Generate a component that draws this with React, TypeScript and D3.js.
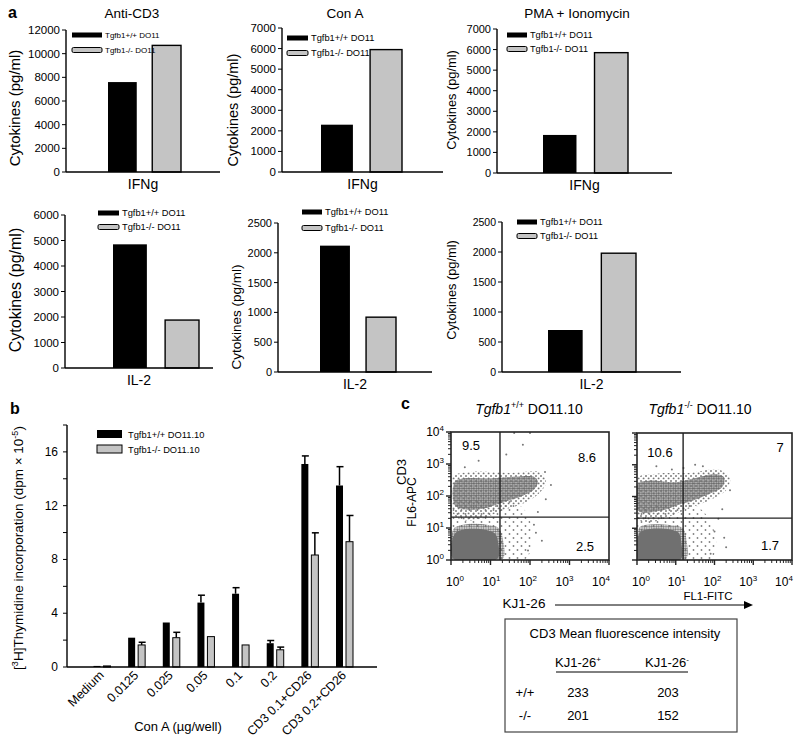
import React from "react";
import * as d3 from "d3";

const FONT = "'Liberation Sans', Arial, Helvetica, sans-serif";
const GRAY = "#c4c4c4";

// ---------- Panel a data ----------
const conditions = ["Anti-CD3", "Con A", "PMA + Ionomycin"];
const seriesA = ["Tgfb1+/+ DO11", "Tgfb1-/- DO11"];
const ifngWT = [7600, 2300, 1850];
const ifngKO = [10700, 5950, 5850];
const il2WT = [4850, 2120, 700];
const il2KO = [1880, 920, 1980];
const ifngMax = [12000, 7000, 7000];
const ifngStep = [2000, 1000, 1000];
const il2Max = [6000, 2500, 2500];
const il2Step = [1000, 500, 500];

// ---------- Panel b data ----------
const bGroups = ["Medium", "0.0125", "0.025", "0.05", "0.1", "0.2", "CD3 0.1+CD26", "CD3 0.2+CD26"];
const bSeries = ["Tgfb1+/+ DO11.10", "Tgfb1-/- DO11.10"];
const bWT = [0.08, 2.18, 3.31, 4.79, 5.45, 1.77, 15.1, 13.5];
const bWTerr = [0, 0, 0, 0.55, 0.45, 0.2, 0.6, 1.4];
const bKO = [0.08, 1.64, 2.18, 2.26, 1.64, 1.28, 8.33, 9.32];
const bKOerr = [0, 0.2, 0.4, 0, 0, 0.2, 1.65, 1.95];
const bTicks = [0, 2, 4, 6, 8, 10, 12, 14, 16, 18];
const bTickLabels = [0, 4, 8, 12, 16];

// ---------- Panel c data (log10 units) ----------
const cTitles = ["+/+", "-/-"];
const cGateX = [1.24, 1.19];
const cGateY = [1.34, 1.32];
const cQuadUL = ["9.5", "10.6"];
const cQuadUR = ["8.6", "7"];
const cQuadLR = ["2.5", "1.7"];
const cBlob = [
  [[0.05, 0.05], [1.18, 0.05], [1.2, 0.5], [1.12, 0.82], [0.9, 0.94], [0.4, 0.97], [0.15, 0.88], [0.05, 0.7]],
  [[0.03, 0.03], [1.13, 0.03], [1.15, 0.5], [1.08, 0.85], [0.85, 0.96], [0.35, 0.98], [0.1, 0.9], [0.03, 0.75]],
];
const cBlobHalo = [
  [[0.02, 0.02], [1.3, 0.02], [1.32, 0.6], [1.2, 1.0], [0.9, 1.1], [0.4, 1.12], [0.1, 1.02], [0.02, 0.8]],
  [[0.01, 0.01], [1.25, 0.01], [1.28, 0.6], [1.18, 1.0], [0.85, 1.1], [0.35, 1.12], [0.08, 1.05], [0.01, 0.8]],
];
const cBand = [
  [[0.1, 1.7], [0.1, 2.45], [0.3, 2.55], [1.0, 2.55], [1.6, 2.6], [2.1, 2.6], [2.2, 2.45], [2.1, 2.2], [1.8, 2.0], [1.3, 1.8], [0.8, 1.6], [0.4, 1.58]],
  [[0.03, 1.55], [0.03, 2.4], [0.3, 2.5], [1.0, 2.45], [1.4, 2.55], [2.0, 2.7], [2.25, 2.6], [2.2, 2.3], [1.9, 2.1], [1.5, 1.9], [1.1, 1.75], [0.6, 1.55]],
];
const cHalo = [
  [[0.05, 1.45], [0.05, 2.6], [0.5, 2.75], [1.5, 2.72], [2.3, 2.72], [2.4, 2.4], [2.2, 2.05], [1.8, 1.75], [1.3, 1.55], [0.8, 1.3], [0.3, 1.25]],
  [[0.03, 1.3], [0.03, 2.6], [0.5, 2.72], [1.4, 2.75], [2.1, 2.85], [2.4, 2.6], [2.3, 2.2], [1.9, 1.9], [1.4, 1.65], [0.9, 1.4], [0.4, 1.2]],
];
const cSparse = [
  [[0.1, 0.9], [1.2, 0.9], [1.25, 0.05], [1.9, 0.05], [2.05, 0.6], [1.95, 1.4], [1.6, 1.8], [0.1, 1.7]],
  [[0.03, 0.95], [1.15, 0.95], [1.2, 0.03], [1.9, 0.03], [2.05, 0.5], [1.85, 1.3], [1.5, 1.7], [0.03, 1.5]],
];
const cOutliers = [
  [[1.82, 3.6], [2.0, 3.97], [1.6, 3.97], [2.38, 2.75], [2.53, 2.34], [0.35, 2.9], [0.7, 3.1], [2.2, 1.5], [2.1, 1.1], [2.3, 0.6], [1.95, 0.3], [2.4, 1.9], [1.4, 3.3], [2.15, 0.85]],
  [[1.5, 3.0], [1.2, 2.9], [0.5, 2.95], [0.9, 2.85], [2.4, 2.2], [2.2, 1.6], [2.0, 0.9], [2.3, 0.4], [1.9, 0.2], [2.1, 1.3], [1.7, 2.95], [2.25, 0.7]],
];
const cDecades = [0, 1, 2, 3, 4];

// ---------- Table ----------
const tableCols = ["KJ1-26", "KJ1-26"];
const tableColSup = ["+", "-"];
const tableRows = ["+/+", "-/-"];
const tableVals = [[233, 203], [201, 152]];

// ---------- Layouts ----------
const aLayout = [
  { x0: 66, x1: 220, yTop: 30, y0: 172, b0: 108, b1: 181, titleX: 132, yLabX: 15, yLabY: 108, yLabFs: 15, legX: 72, legW: 30, legY: 35, legDy: 15, legFs: 8, tickFs: 11.5 },
  { x0: 282, x1: 443, yTop: 28, y0: 172, b0: 321, b1: 402, titleX: 345, yLabX: 233, yLabY: 110, yLabFs: 14.5, legX: 287, legW: 21, legY: 38, legDy: 15, legFs: 9.3, tickFs: 11.5 },
  { x0: 497, x1: 672, yTop: 29, y0: 173, b0: 543, b1: 628, titleX: 577, yLabX: 452, yLabY: 100, yLabFs: 12.8, legX: 507, legW: 20, legY: 35, legDy: 14, legFs: 9.2, tickFs: 11 },
  { x0: 65, x1: 213, yTop: 215, y0: 368, b0: 113, b1: 199, titleX: 0, yLabX: 15, yLabY: 290, yLabFs: 16, legX: 98, legW: 21, legY: 213, legDy: 14, legFs: 9.3, tickFs: 11.5 },
  { x0: 278, x1: 432, yTop: 223, y0: 372, b0: 320, b1: 396, titleX: 0, yLabX: 236, yLabY: 317, yLabFs: 13.5, legX: 302, legW: 20, legY: 212, legDy: 16, legFs: 9.3, tickFs: 11 },
  { x0: 502, x1: 681, yTop: 222, y0: 372, b0: 548, b1: 636, titleX: 0, yLabX: 452, yLabY: 290, yLabFs: 12.8, legX: 517, legW: 20, legY: 222, legDy: 14, legFs: 9.2, tickFs: 10.5 },
];

function BarA({ L, title, cat, wt, ko, max, step }: any) {
  const y = d3.scaleLinear().domain([0, max]).range([L.y0, L.yTop]);
  const x = d3.scaleBand().domain(["wt", "ko"]).range([L.b0, L.b1]).paddingInner(0.35);
  const ticks = d3.range(0, max + 1, step);
  const vals = { wt, ko } as any;
  return (
    <g fontFamily={FONT}>
      {title && (
        <text x={L.titleX} y={18} fontSize={13.5} textAnchor="middle">{title}</text>
      )}
      {["wt", "ko"].map((k) => (
        <rect key={k} x={x(k)} y={y(vals[k])} width={x.bandwidth()} height={L.y0 - y(vals[k])}
          fill={k === "wt" ? "#000" : GRAY} stroke="#000" strokeWidth={k === "wt" ? 0 : 1.4} />
      ))}
      <line x1={L.x0} x2={L.x0} y1={L.yTop} y2={L.y0} stroke="#000" strokeWidth={1.4} />
      <line x1={L.x0} x2={L.x1} y1={L.y0} y2={L.y0} stroke="#000" strokeWidth={1.4} />
      {ticks.map((t: number) => (
        <g key={t}>
          <line x1={L.x0 - 4} x2={L.x0} y1={y(t)} y2={y(t)} stroke="#000" strokeWidth={1} />
          <text x={L.x0 - 6} y={y(t) + 4} fontSize={L.tickFs} textAnchor="end">{t}</text>
        </g>
      ))}
      <text transform={`translate(${L.yLabX},${L.yLabY}) rotate(-90)`} dy="0.35em" fontSize={L.yLabFs} textAnchor="middle">Cytokines (pg/ml)</text>
      <text x={(L.x0 + L.x1) / 2} y={L.y0 + 17} fontSize={14} textAnchor="middle">{cat}</text>
      {seriesA.map((s, i) => (
        <g key={s}>
          <rect x={L.legX} y={L.legY + i * L.legDy - 2.5} width={L.legW} height={5}
            fill={i === 0 ? "#000" : GRAY} stroke="#000" strokeWidth={i === 0 ? 0 : 1} rx={i === 0 ? 0 : 1.5} />
          <text x={L.legX + L.legW + 3} y={L.legY + i * L.legDy + 3.2} fontSize={L.legFs}>{s}</text>
        </g>
      ))}
    </g>
  );
}

function PanelB() {
  const y = d3.scaleLinear().domain([0, 18]).range([667, 425]);
  const x = d3.scalePoint().domain(bGroups).range([101.5, 344]);
  const xi = d3.scaleBand().domain(["wt", "ko"]).range([-8, 9]).paddingInner(0.3);
  const bw = xi.bandwidth();
  return (
    <g fontFamily={FONT}>
      <text x={10} y={414} fontSize={16} fontWeight="bold">b</text>
      {bGroups.map((g, i) => {
        const cx = x(g) as number;
        const items = [
          { k: "wt", v: bWT[i], e: bWTerr[i] },
          { k: "ko", v: bKO[i], e: bKOerr[i] },
        ];
        return (
          <g key={g}>
            {items.map((it) => {
              const bx = cx + (xi(it.k) as number);
              return (
                <g key={it.k}>
                  {it.e > 0 && (
                    <g stroke="#000" strokeWidth={1.5}>
                      <line x1={bx + bw / 2} x2={bx + bw / 2} y1={y(it.v)} y2={y(it.v + it.e)} />
                      <line x1={bx + 0.5} x2={bx + bw + 0.5} y1={y(it.v + it.e)} y2={y(it.v + it.e)} />
                    </g>
                  )}
                  <rect x={bx} y={y(it.v)} width={bw} height={667 - y(it.v)}
                    fill={it.k === "wt" ? "#000" : GRAY} stroke="#000" strokeWidth={it.k === "wt" ? 0 : 1} />
                </g>
              );
            })}
            <text transform={`translate(${cx + 3},${676}) rotate(-45)`} fontSize={12.5} textAnchor="end">{g}</text>
          </g>
        );
      })}
      <line x1={67} x2={67} y1={425} y2={667} stroke="#000" strokeWidth={1.4} />
      <line x1={67} x2={377} y1={667} y2={667} stroke="#000" strokeWidth={1.4} />
      {bTicks.map((t) => (
        <line key={t} x1={63} x2={67} y1={y(t)} y2={y(t)} stroke="#000" strokeWidth={1} />
      ))}
      {bTickLabels.map((t) => (
        <text key={t} x={58} y={y(t) + 4} fontSize={12} textAnchor="end">{t}</text>
      ))}
      <text transform={`translate(18,548) rotate(-90)`} dy="0.35em" fontSize={13.5} textAnchor="middle">
        <tspan>[</tspan>
        <tspan dy={-5} fontSize={9}>3</tspan>
        <tspan dy={5}>H]Thymidine incorporation (dpm × 10</tspan>
        <tspan dy={-5} fontSize={9}>-5</tspan>
        <tspan dy={5}>)</tspan>
      </text>
      <text x={178} y={731} fontSize={13} textAnchor="middle">Con A (µg/well)</text>
      {bSeries.map((s, i) => (
        <g key={s}>
          <rect x={97} y={430 + i * 15} width={25} height={8}
            fill={i === 0 ? "#000" : GRAY} stroke="#000" strokeWidth={i === 0 ? 0 : 1} />
          <text x={128} y={437.5 + i * 15} fontSize={9.3}>{s}</text>
        </g>
      ))}
    </g>
  );
}

const cLayout = [
  { left: 451, right: 609, top: 432, bottom: 560, titleX: 529, yLabels: true, ul: [471, 450], ur: [587, 462], lr: [585, 551] },
  { left: 637, right: 792, top: 433, bottom: 560, titleX: 700, yLabels: false, ul: [660, 457], ur: [780, 452], lr: [770, 550] },
];

function Flow({ i }: { i: number }) {
  const L = cLayout[i];
  const x = d3.scaleLog().domain([1, 1e4]).range([L.left, L.right]);
  const y = d3.scaleLog().domain([1, 1e4]).range([L.bottom, L.top]);
  const xl = d3.scaleLinear().domain([0, 4]).range([L.left + 4, L.right - 8]);
  const px = (v: number) => x(Math.pow(10, v));
  const py = (v: number) => y(Math.pow(10, v));
  const line = d3.line<number[]>().x((d) => px(d[0])).y((d) => py(d[1])).curve(d3.curveCatmullRomClosed.alpha(0.5));
  const minor: number[] = [];
  for (let k = 0; k < 4; k++) for (let m = 2; m <= 9; m++) minor.push(m * Math.pow(10, k));
  const clipId = `clip${i}`;
  return (
    <g fontFamily={FONT}>
      <defs>
        <clipPath id={clipId}>
          <rect x={L.left} y={L.top} width={L.right - L.left} height={L.bottom - L.top} />
        </clipPath>
      </defs>
      <g clipPath={`url(#${clipId})`}>
        <path d={line(cSparse[i] as any) || ""} fill="url(#patSparse)" />
        <path d={line(cHalo[i] as any) || ""} fill="url(#patMed)" />
        <path d={line(cBand[i] as any) || ""} fill="#8c8c8c" fillOpacity={0.45} />
        <path d={line(cBand[i] as any) || ""} fill="url(#patDense)" />
        <path d={line(cBlobHalo[i] as any) || ""} fill="url(#patDense)" />
        <path d={line(cBlob[i] as any) || ""} fill="#707070" />
        {cOutliers[i].map((p, j) => (
          <circle key={j} cx={px(p[0])} cy={py(p[1])} r={1} fill="#777" />
        ))}
      </g>
      <rect x={L.left} y={L.top} width={L.right - L.left} height={L.bottom - L.top} fill="none" stroke="#222" strokeWidth={1.6} />
      <line x1={px(cGateX[i])} x2={px(cGateX[i])} y1={L.top} y2={L.bottom} stroke="#222" strokeWidth={1.4} />
      <line x1={L.left} x2={L.right} y1={py(cGateY[i])} y2={py(cGateY[i])} stroke="#222" strokeWidth={1.4} />
      {minor.map((m) => (
        <g key={m} stroke="#222" strokeWidth={1}>
          <line x1={x(m)} x2={x(m)} y1={L.bottom} y2={L.bottom + 3} />
          <line x1={L.left} x2={L.left - 3} y1={y(m)} y2={y(m)} />
        </g>
      ))}
      {cDecades.map((d) => (
        <g key={d}>
          <line x1={px(d)} x2={px(d)} y1={L.bottom} y2={L.bottom + 5} stroke="#222" strokeWidth={1.4} />
          <line x1={L.left} x2={L.left - 5} y1={py(d)} y2={py(d)} stroke="#222" strokeWidth={1.4} />
          <text x={xl(d)} y={586} fontSize={12} textAnchor="middle">
            <tspan>10</tspan>
            <tspan dy={-5} fontSize={8}>{d}</tspan>
          </text>
          {L.yLabels && (
            <text x={L.left - 7} y={py(d) + 4} fontSize={12} textAnchor="end">
              <tspan>10</tspan>
              <tspan dy={-5} fontSize={8}>{d}</tspan>
            </text>
          )}
        </g>
      ))}
      <text x={L.ul[0]} y={L.ul[1]} fontSize={13} textAnchor="middle">{cQuadUL[i]}</text>
      <text x={L.ur[0]} y={L.ur[1]} fontSize={13} textAnchor="middle">{cQuadUR[i]}</text>
      <text x={L.lr[0]} y={L.lr[1]} fontSize={13} textAnchor="middle">{cQuadLR[i]}</text>
      <text x={L.titleX} y={414} fontSize={14} textAnchor="middle">
        <tspan fontStyle="italic">Tgfb1</tspan>
        <tspan dy={-6} fontSize={9}>{cTitles[i]}</tspan>
        <tspan dy={6}> DO11.10</tspan>
      </text>
    </g>
  );
}

function PanelC() {
  return (
    <g fontFamily={FONT}>
      <defs>
        <pattern id="patDense" patternUnits="userSpaceOnUse" width={2.4} height={2.4}>
          <circle cx={1.2} cy={1.2} r={1.05} fill="#6a6a6a" />
        </pattern>
        <pattern id="patMed" patternUnits="userSpaceOnUse" width={5} height={5}>
          <circle cx={1} cy={1} r={0.95} fill="#777" />
          <circle cx={3.6} cy={3.4} r={0.95} fill="#777" />
        </pattern>
        <pattern id="patSparse" patternUnits="userSpaceOnUse" width={8} height={8}>
          <circle cx={1.5} cy={2} r={0.9} fill="#808080" />
          <circle cx={5.5} cy={6} r={0.9} fill="#808080" />
        </pattern>
      </defs>
      <text x={401} y={409} fontSize={16} fontWeight="bold">c</text>
      <Flow i={0} />
      <Flow i={1} />
      <text transform="translate(401,472) rotate(-90)" dy="0.35em" fontSize={13} textAnchor="middle">CD3</text>
      <text transform="translate(412,502) rotate(-90)" dy="0.35em" fontSize={12} textAnchor="middle">FL6-APC</text>
      <text x={524} y={608} fontSize={13.5} textAnchor="middle">KJ1-26</text>
      <line x1={555} x2={745} y1={605} y2={605} stroke="#000" strokeWidth={1} />
      <path d="M744,601 L753,605 L744,609 Z" fill="#000" />
      <text x={708} y={600} fontSize={11.5} textAnchor="middle">FL1-FITC</text>
      {/* table */}
      <rect x={505} y={619} width={232} height={113} fill="none" stroke="#444" strokeWidth={1.2} />
      <text x={625} y={638} fontSize={13} textAnchor="middle">CD3 Mean fluorescence intensity</text>
      {tableCols.map((c, j) => (
        <text key={j} x={j === 0 ? 578 : 667} y={667} fontSize={13} textAnchor="middle">
          <tspan>{c}</tspan>
          <tspan dy={-5} fontSize={8}>{tableColSup[j]}</tspan>
        </text>
      ))}
      <line x1={556} x2={688} y1={672} y2={672} stroke="#000" strokeWidth={1} />
      {tableRows.map((r, k) => (
        <g key={r}>
          <text x={525} y={697 + k * 23} fontSize={13} textAnchor="middle">{r}</text>
          {tableVals[k].map((v, j) => (
            <text key={j} x={j === 0 ? 578 : 668} y={697 + k * 23} fontSize={13} textAnchor="middle">{v}</text>
          ))}
        </g>
      ))}
    </g>
  );
}

export default function App() {
  return (
    <svg width={800} height={738} style={{ position: "absolute", left: 0, top: 0, background: "#fff" }}>
      <rect width={800} height={738} fill="#fff" />
      <text x={8} y={18} fontSize={16} fontWeight="bold" fontFamily={FONT}>a</text>
      {conditions.map((c, i) => (
        <BarA key={"ifng" + i} L={aLayout[i]} title={c} cat="IFNg" wt={ifngWT[i]} ko={ifngKO[i]} max={ifngMax[i]} step={ifngStep[i]} />
      ))}
      {conditions.map((c, i) => (
        <BarA key={"il2" + i} L={aLayout[i + 3]} title={null} cat="IL-2" wt={il2WT[i]} ko={il2KO[i]} max={il2Max[i]} step={il2Step[i]} />
      ))}
      <PanelB />
      <PanelC />
    </svg>
  );
}
